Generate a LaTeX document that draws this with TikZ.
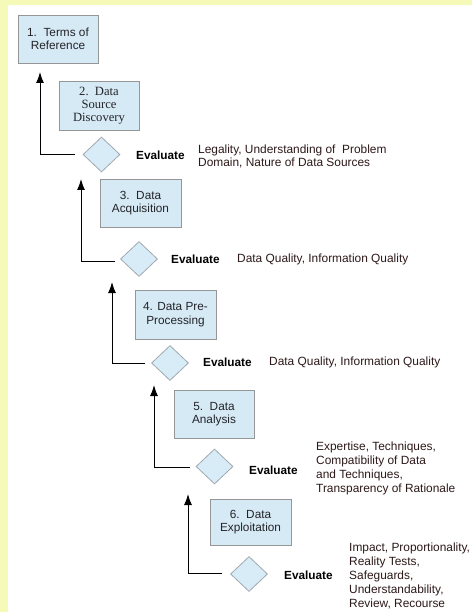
\documentclass[tikz,border=0pt]{standalone}
\usepackage{fontspec}
\setmainfont{Liberation Sans}
\newfontfamily\serifbox{Liberation Serif}
\usetikzlibrary{shapes.geometric,arrows.meta}
\definecolor{bgyellow}{RGB}{245,250,185}
\definecolor{boxfill}{RGB}{214,234,246}
\definecolor{boxline}{RGB}{150,150,150}
\definecolor{diafill}{RGB}{216,236,248}
\definecolor{dialine}{RGB}{160,168,176}
\definecolor{boxtext}{RGB}{35,35,40}
\definecolor{desctext}{RGB}{45,25,25}
\tikzset{
  stagebox/.style={draw=boxline, line width=0.9pt, fill=boxfill, minimum width=80pt, minimum height=48pt, inner sep=0pt, align=center, text=boxtext, font=\fontsize{11.8}{13.5}\selectfont},
  evaldia/.style={diamond, draw=dialine, line width=0.8pt, fill=diafill, minimum width=37pt, minimum height=35pt, inner sep=0pt, aspect=1.05},
  evallabel/.style={anchor=west, inner sep=0pt, font=\fontsize{11.8}{13.5}\selectfont\bfseries},
  desclabel/.style={anchor=west, inner sep=0pt, align=left, text=desctext, font=\fontsize{11.9}{13.9}\selectfont},
  backarrow/.style={draw=black, line width=1pt, -{Latex[length=11pt,width=8pt]}}
}
\begin{document}
\begin{tikzpicture}[x=1pt,y=-1pt]
\useasboundingbox (0,0) rectangle (472,612);
\fill[bgyellow] (0,0) rectangle (472,612);
\fill[white] (8,5) rectangle (472,612);

% stages
\node[stagebox] (b1) at (58,39) {1.\ \ Terms of\\Reference};
\node[stagebox, minimum height=49pt, font=\serifbox\fontsize{12.6}{13.3}\selectfont] (b2) at (99,105.5) {2.\ \ Data\\Source\\Discovery};
\node[stagebox, minimum width=81pt] (b3) at (140.5,203) {3.\ \ Data\\Acquisition};
\node[stagebox, minimum width=81pt, minimum height=49pt] (b4) at (175.5,314.5) {4. Data Pre-\\Processing};
\node[stagebox] (b5) at (214,414) {5.\ \ Data\\Analysis};
\node[stagebox, minimum width=81pt, minimum height=46pt] (b6) at (250.5,522) {6.\ \ Data\\Exploitation};

% evaluations
\node[evaldia] (d2) at (101.5,154.5) {};
\node[evaldia] (d3) at (139,259) {};
\node[evaldia] (d4) at (170,363) {};
\node[evaldia] (d5) at (214.5,466.5) {};
\node[evaldia] (d6) at (249,574) {};

\node[evallabel] (e2) at (136,155) {Evaluate};
\node[evallabel] (e3) at (171,259.5) {Evaluate};
\node[evallabel] (e4) at (203,362.5) {Evaluate};
\node[evallabel] (e5) at (249,470) {Evaluate};
\node[evallabel] (e6) at (284,575) {Evaluate};

\node[desclabel] (c2) at (198,156.5) {Legality, Understanding of\ \ Problem\\Domain, Nature of Data Sources};
\node[desclabel] (c3) at (237,259.5) {Data Quality, Information Quality};
\node[desclabel] (c4) at (269,362.5) {Data Quality, Information Quality};
\node[desclabel] (c5) at (316,468.5) {Expertise, Techniques,\\Compatibility of Data\\and Techniques,\\Transparency of Rationale};
\node[desclabel] (c6) at (349,576) {Impact, Proportionality,\\Reality Tests,\\Safeguards,\\Understandability,\\Review, Recourse};

% arrow tips
\coordinate (t2) at (40,72);
\coordinate (t3) at (81,179);
\coordinate (t4) at (112,282);
\coordinate (t5) at (154,385);
\coordinate (t6) at (188,494);

\draw[backarrow] ([xshift=-8pt]d2.west) -| (t2);
\draw[backarrow] ([xshift=-5pt,yshift=-2pt]d3.west) -| (t3);
\draw[backarrow] ([xshift=-6pt]d4.west) -| (t4);
\draw[backarrow] ([xshift=-6pt,yshift=-0.5pt]d5.west) -| (t5);
\draw[backarrow] ([xshift=-8pt,yshift=1pt]d6.west) -| (t6);
\end{tikzpicture}
\end{document}
